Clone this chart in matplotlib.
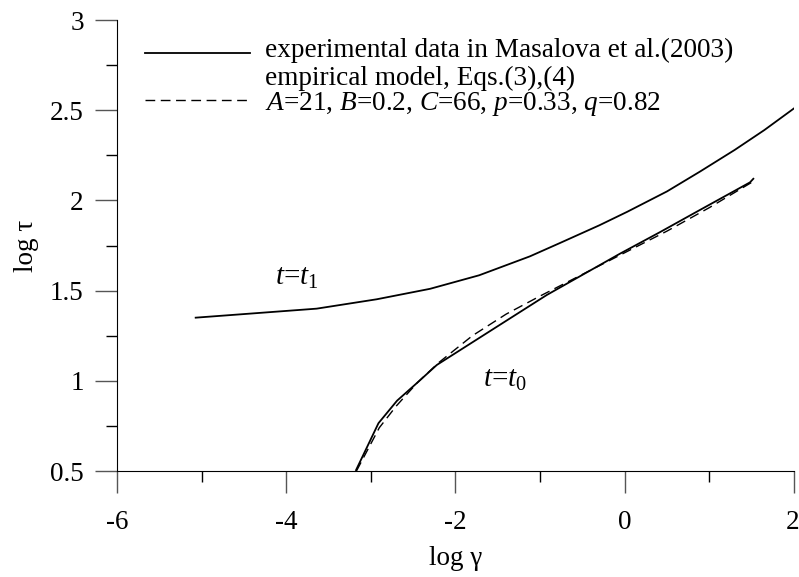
import numpy as np
import matplotlib
matplotlib.use("Agg")
import matplotlib.pyplot as plt
import matplotlib.transforms as mtransforms
from matplotlib.ticker import MultipleLocator

plt.rcParams['font.family'] = ['Liberation Serif', 'DejaVu Serif']
plt.rcParams['mathtext.fontset'] = 'custom'
plt.rcParams['mathtext.rm'] = 'Liberation Serif'
plt.rcParams['mathtext.it'] = 'Liberation Serif:italic'

# experimental data, t = t1 (upper curve)
x_t1 = [-5.07, -3.64, -2.93, -2.30, -1.72, -1.12, -0.76, -0.30, 0.03, 0.50, 0.89, 1.30, 1.65, 2.0]
y_t1 = [1.35, 1.40, 1.452, 1.51, 1.585, 1.69, 1.765, 1.862, 1.937, 2.05, 2.16, 2.28, 2.39, 2.51]

# experimental data, t = t0 (lower curve)
x_t0 = [-3.175, -2.91, -2.69, -2.45, -2.22, -1.51, -0.92, -0.055, 0.42, 0.85, 1.48, 1.52]
y_t0 = [0.505, 0.765, 0.89, 0.99, 1.088, 1.30, 1.476, 1.705, 1.825, 1.937, 2.10, 2.12]

# empirical model
x_mod = [-3.17, -2.9, -2.7, -2.45, -2.2, -1.8, -1.4, -1.0, -0.5, 0.0, 0.5, 1.0, 1.5]
y_mod = [0.50, 0.74, 0.86, 0.99, 1.10, 1.25, 1.37, 1.47, 1.59, 1.71, 1.83, 1.96, 2.10]

xticks = [-6, -4, -2, 0, 2]
yticks = [0.5, 1, 1.5, 2, 2.5, 3]

fig = plt.figure(figsize=(7.99, 5.77), dpi=100)
ax = fig.add_axes([0.1464, 0.1837, 0.8473, 0.7816])

ax.plot(x_t1, y_t1, color='black', lw=1.3)
ax.plot(x_t0, y_t0, color='black', lw=1.3)
ax.plot(x_mod, y_mod, color='black', lw=1.0, ls=(0, (7, 4)))

ax.set_xlim(-6, 2)
ax.set_ylim(0.5, 3)
ax.spines['top'].set_visible(False)
ax.spines['right'].set_visible(False)
ax.set_xticks(xticks)
ax.set_xticklabels([str(v) for v in xticks])
ax.set_yticks(yticks)
ax.set_yticklabels(['0.5', '1', '1.5', '2', '2.5', '3'])
ax.xaxis.set_minor_locator(MultipleLocator(1))
ax.yaxis.set_minor_locator(MultipleLocator(0.25))
ax.tick_params(which='major', direction='out', length=16, width=1, color='#555555',
               labelsize=19.5)
ax.tick_params(axis='x', which='major', pad=12)
ax.tick_params(axis='y', which='major', pad=8)
ax.tick_params(which='minor', direction='out', length=8, width=1, color='black')

# keep the last x label inside the figure edge
last = ax.get_xticklabels()[-1]
last.set_ha('right')
last.set_transform(last.get_transform() +
                   mtransforms.ScaledTranslation(4 / 72, 0, fig.dpi_scale_trans))

ax.set_xlabel('log γ', fontsize=19.5, labelpad=8)
ax.set_ylabel('log τ', fontsize=19.5, labelpad=8)

# legend drawn by hand
ax.plot([-5.67, -4.43], [2.817, 2.817], color='black', lw=1.3)
ax.plot([-5.67, -4.43], [2.557, 2.557], color='black', lw=1.0, ls=(0, (7, 4)))
ax.text(-4.25, 2.834, 'experimental data in Masalova et al.(2003)', fontsize=19.6, va='center')
ax.text(-4.25, 2.675, 'empirical model, Eqs.(3),(4)', fontsize=19.6, va='center')
ax.text(-4.25, 2.535, '$A$=21, $B$=0.2, $C$=66, $p$=0.33, $q$=0.82', fontsize=19.6, va='center')

ax.text(-3.87, 1.57, r'$t$=$t_{\mathrm{1}}$', fontsize=21, ha='center', va='center')
ax.text(-1.41, 1.005, r'$t$=$t_{\mathrm{0}}$', fontsize=21, ha='center', va='center')

fig.savefig('out.png', dpi=100)
